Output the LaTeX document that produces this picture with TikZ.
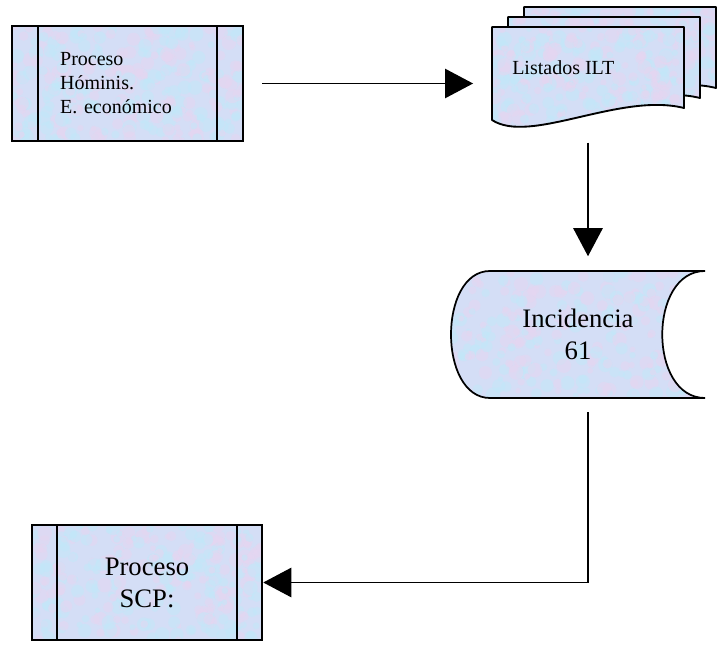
\documentclass[tikz,border=0pt]{standalone}
\usepackage{fontspec}
\setmainfont{Liberation Serif}
\usetikzlibrary{arrows.meta,calc}

\definecolor{marblebase}{RGB}{212,222,246}
\definecolor{blotpink}{RGB}{230,214,241}
\definecolor{blotblue}{RGB}{194,232,249}

% random pastel blots inside whatever path carries the style
\newcommand{\marbleblots}{%
  \coordinate (pa) at (path picture bounding box.south west);
  \coordinate (pb) at (path picture bounding box.north east);
  \foreach \k in {1,...,150}{
    \coordinate (ra) at ($(pa)!rnd!(pa-|pb)$);
    \coordinate (rb) at ($(pa)!rnd!(pa|-pb)$);
    \pgfmathsetmacro\rr{2+3.5*rnd}
    \fill[blotpink, opacity=.5] (ra|-rb) circle[radius=\rr pt];
    \coordinate (ra) at ($(pa)!rnd!(pa-|pb)$);
    \coordinate (rb) at ($(pa)!rnd!(pa|-pb)$);
    \pgfmathsetmacro\rr{2+3.5*rnd}
    \fill[blotblue, opacity=.5] (ra|-rb) circle[radius=\rr pt];
  }}

\tikzset{
  marble/.style={fill=marblebase, path picture={\marbleblots}},
  procbox/.style={draw, line width=1.4pt, marble, minimum width=173pt,
    minimum height=86pt, inner sep=0pt},
  docpage/.style={draw, line width=1.4pt, line join=round, marble},
  storebox/.style={draw, line width=1.3pt, marble},
  flowarrow/.style={line width=1.1pt, -{Triangle[length=21pt,width=22pt]}},
  small/.style={font=\fontsize{15}{18}\selectfont},
  big/.style={font=\fontsize{20}{24}\selectfont}
}

\begin{document}
\pgfmathsetseed{41}
\begin{tikzpicture}[x=0.75pt,y=-0.75pt]
  \useasboundingbox (0,0) rectangle (719,646);

  % process boxes
  \node[procbox, small, align=left, text width=101pt] (hominis) at (127.5,83.5)
    {Proceso\\Hóminis.\\E. económico};
  \node[procbox, big, align=center] (scp) at (147,582.5) {Proceso\\SCP:};
  \foreach \n in {hominis, scp} {
    \draw[line width=1.4pt] ([xshift=20pt]\n.north west) -- ([xshift=20pt]\n.south west);
    \draw[line width=1.4pt] ([xshift=-20pt]\n.north east) -- ([xshift=-20pt]\n.south east);
  }

  % stack of documents, back page first
  \foreach \k in {2,1,0} {
    \begin{scope}[shift={(492+16*\k,27-10*\k)}]
      \draw[docpage] (0,0) -- (192,0) -- (192,81)
        .. controls (128,65) and (38,118) .. (0,93) -- cycle;
    \end{scope}
  }
  \node[minimum width=144pt, minimum height=85.5pt, inner sep=0pt] (listados) at (588,84) {};
  \node[small, anchor=west, inner sep=0pt] (listadostxt) at (512,68) {Listados ILT};

  % stored data
  \draw[storebox] (490,271) -- (705,271) .. controls (648,271) and (648,398) .. (705,398)
    -- (490,398) .. controls (438,398) and (438,271) .. (490,271) -- cycle;
  \node[big, align=center, minimum width=190pt, minimum height=95pt, inner sep=0pt]
    (incidencia) at (578,334.5) {Incidencia\\61};

  % connectors
  \draw[flowarrow, shorten <=14pt, shorten >=14pt] (hominis.east) -- (hominis.east -| listados.west);
  \draw[flowarrow, shorten <=1pt, shorten >=11pt] (listados.south) -- (listados.south |- incidencia.north);
  \draw[flowarrow, shorten <=10.5pt] (listados.south |- incidencia.south) |- (scp.east);
\end{tikzpicture}
\end{document}
